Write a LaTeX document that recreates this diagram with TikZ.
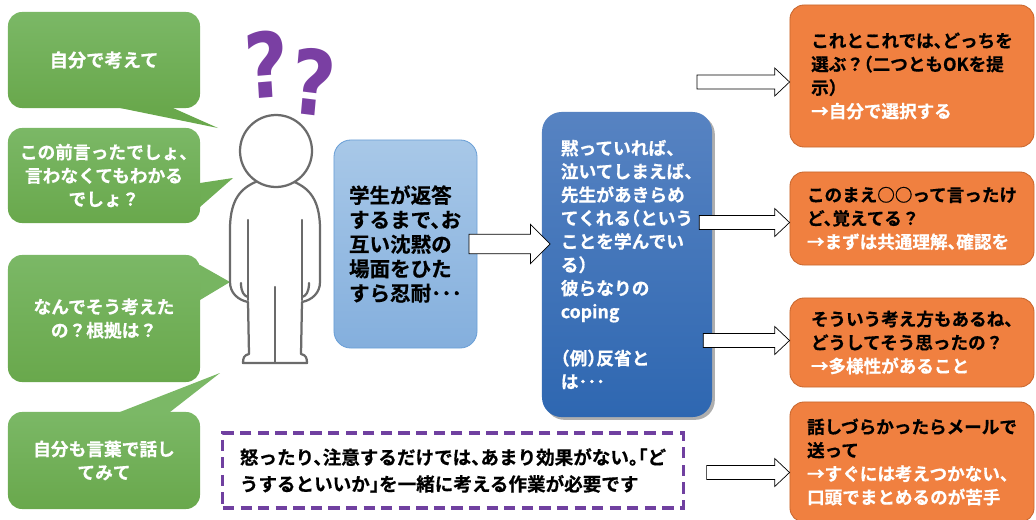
\documentclass[tikz,border=0pt]{standalone}
\usepackage{fontspec}
\newfontfamily\jpfont{Noto Sans CJK JP}[BoldFont={Noto Sans CJK JP Bold},
  BoldFeatures={FakeBold=0.5}, RawFeature=+halt]
\newfontfamily\qfont{DejaVu Sans}
\usetikzlibrary{calc,backgrounds,shadows}
\definecolor{sayhi}{HTML}{7BB866}
\definecolor{saylo}{HTML}{69A84C}
\definecolor{calmhi}{HTML}{A8C8E8}
\definecolor{calmlo}{HTML}{84AFDD}
\definecolor{calmline}{HTML}{6A9FD6}
\definecolor{copehi}{HTML}{5783C2}
\definecolor{copelo}{HTML}{2E67B1}
\definecolor{tipfill}{HTML}{F08040}
\definecolor{tipline}{HTML}{C8672E}
\definecolor{notepurple}{HTML}{7040A0}
\definecolor{qmark}{HTML}{7A3FA3}
\definecolor{figline}{HTML}{6B6B6B}

\begin{document}
\begin{tikzpicture}[
    x=0.025cm, y=-0.025cm,
    every node/.style={font=\jpfont\bfseries},
    say/.style={rectangle, rounded corners=10pt, top color=sayhi,
                bottom color=saylo, text=white, align=center,
                minimum width=4.8cm,
                font=\jpfont\bfseries\fontsize{12.6}{16.7}\selectfont},
    calm/.style={rectangle, rounded corners=12pt, draw=calmline,
                 line width=0.6pt, top color=calmhi, bottom color=calmlo,
                 align=left, minimum width=3.575cm, minimum height=5.2cm,
                 font=\jpfont\bfseries\fontsize{14.6}{17.4}\selectfont},
    cope/.style={rectangle, rounded corners=14pt, top color=copehi,
                 bottom color=copelo, text=white, align=left,
                 minimum width=4.25cm, minimum height=7.625cm,
                 drop shadow={shadow xshift=2pt, shadow yshift=-2pt,
                              fill=black!70, opacity=0.45},
                 font=\jpfont\bfseries\fontsize{12.6}{16.6}\selectfont},
    tip/.style={rectangle, rounded corners=10pt, draw=tipline,
                line width=0.6pt, fill=tipfill, align=left,
                minimum width=6.1cm,
                font=\jpfont\bfseries\fontsize{12.5}{16.7}\selectfont},
    note/.style={rectangle, draw=notepurple, line width=2.2pt,
                 dash pattern=on 8pt off 4.5pt, align=left,
                 minimum width=11.5cm, minimum height=1.875cm,
                 font=\jpfont\bfseries\fontsize{13.2}{19}\selectfont},
    qm/.style={text=qmark, inner sep=0pt, xscale=0.85,
               font=\qfont\bfseries\fontsize{64}{64}\selectfont},
    fig/.style={draw=figline, line width=1.6pt, line join=round,
                line cap=round},
    blk/.style args={#1/#2/#3}{draw=black, line width=0.5pt, fill=white,
      to path={let \p1=(\tikztostart), \p2=(\tikztotarget) in
        (\x1,\y1-#1) -- (\x2-#3,\y1-#1) -- (\x2-#3,\y1-#2) -- (\x2,\y1)
        -- (\x2-#3,\y1+#2) -- (\x2-#3,\y1+#1) -- (\x1,\y1+#1) -- cycle}}
  ]
  \useasboundingbox (0,0) rectangle (1036,519);

  % speech bubbles on the left
  \node[say, minimum height=2.4cm, font=\jpfont\bfseries\fontsize{13}{16.7}\selectfont]
    (say1) at (104,60) {自分で考えて};
  \node[say, minimum height=2.375cm] (say2) at (104,175.5) {
    この前言ったでしょ、\\言わなくてもわかる\\でしょ？};
  \node[say, minimum height=3.175cm] (say3) at (104,318.5) {
    なんでそう考えた\\の？根拠は？};
  \node[say, minimum height=2.425cm] (say4) at (104,460.5) {
    自分も言葉で話し\\てみて};

  \begin{scope}[on background layer]
    \fill[saylo] (120,108) -- (218,128) -- (173,108) -- (173,96) -- (120,96) -- cycle;
    \fill[sayhi!35!saylo] (200,183) -- (233,178) -- (200,207) -- (188,207) -- (188,183) -- cycle;
    \fill[sayhi!80!saylo] (200,265) -- (230,282) -- (200,300) -- (188,300) -- (188,265) -- cycle;
    \fill[sayhi] (120,412) -- (220,373) -- (170,412) -- (170,424) -- (120,424) -- cycle;
  \end{scope}

  % the puzzled student
  \draw[fig] (258,181) .. controls (240,188) and (231,200) .. (230,226)
    -- (230,282) .. controls (230,293) and (238,300) .. (248,302)
    -- (249,354) .. controls (244,355) and (243,358) .. (243,363)
    -- (307,363) .. controls (307,358) and (306,355) .. (301,354)
    -- (302,302) .. controls (312,300) and (320,293) .. (320,282)
    -- (320,226) .. controls (319,200) and (310,188) .. (292,181);
  \draw[fig] (248,220) -- (248,300);
  \draw[fig] (302,220) -- (302,300);
  \draw[fig] (275,287) -- (275,363);
  \draw[fig] (241,283) .. controls (241,292) and (244,296) .. (248,297);
  \draw[fig] (309,283) .. controls (309,292) and (306,296) .. (302,297);
  \draw[fig, fill=white] (276,151) circle[radius=36];
  \node[qm, rotate=4] (q1) at (267,64) {?};
  \node[qm, rotate=-6] (q2) at (314,82) {?};

  \node[calm] (calm) at (405.5,244) {
    学生が返答\\するまで、お\\互い沈黙の\\場面をひた\\すら忍耐･･･};

  \node[cope] (cope) at (627,264.5) {
    黙っていれば、\\泣いてしまえば、\\先生があきらめ\\てくれる（という\\ことを学んでい\\る）\\彼らなりの\\coping\\[16.6pt]（例）反省と\\は･･･};

  \node[note] (note) at (453,470.5) {
    怒ったり、注意するだけでは、あまり効果がない。「ど\\うするといいか」を一緒に考える作業が必要です};

  \node[tip, minimum height=3.55cm] (tip1) at (912,76) {
    これとこれでは、どっちを\\選ぶ？（二つともOKを提\\示）\\
    \textcolor{white}{→自分で選択する}};
  \node[tip, minimum height=2.325cm] (tip2) at (912,218.5) {
    このまえ○○って言ったけ\\ど、覚えてる？\\
    \textcolor{white}{→まずは共通理解、確認を}};
  \node[tip, minimum height=2.225cm] (tip3) at (912,342.5) {
    そういう考え方もあるね、\\どうしてそう思ったの？\\
    \textcolor{white}{→多様性があること}};
  \node[tip, minimum height=3cm] (tip4) at (912,462) {
    話しづらかったらメールで\\送って\\
    \textcolor{white}{→すぐには考えつかない、}\\
    \textcolor{white}{口頭でまとめるのが苦手}};

  \coordinate (from1) at (697,82);

  \draw[blk=7pt/14pt/14pt] ([xshift=-6pt]calm.east) to ([xshift=6pt]cope.west);
  \draw[blk=5pt/10pt/10.6pt] (from1) to (tip1.west);
  \draw[blk=5pt/10pt/10.6pt] ($(cope.east |- tip2.west)+(-13,4)$) to (tip2.west);
  \draw[blk=5pt/10pt/10.6pt] ($(cope.east |- tip3.west)+(-9,-2)$) to (tip3.west);
  \draw[blk=5pt/10pt/10.6pt] ($(note.east)+(22,2)$) to (tip4.west);
\end{tikzpicture}
\end{document}
